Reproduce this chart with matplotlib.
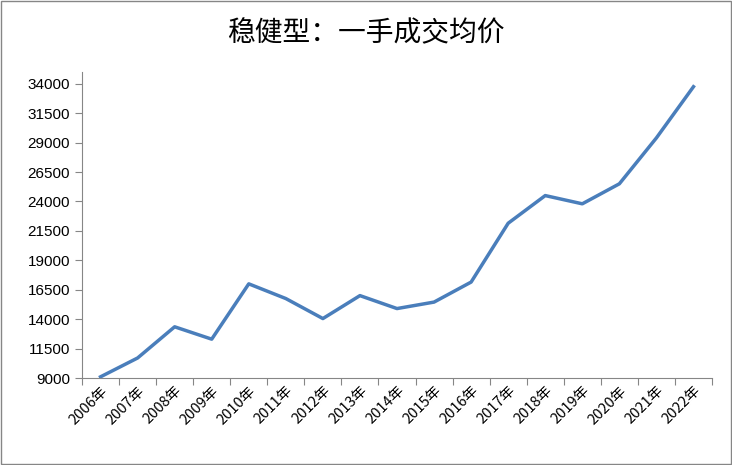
import matplotlib
matplotlib.use("Agg")
import matplotlib.pyplot as plt
from matplotlib.patches import Rectangle

plt.rcParams['font.family'] = ['Noto Sans CJK SC', 'DejaVu Sans']

years = [f"{y}年" for y in range(2006, 2023)]
prices = [9100, 10700, 13350, 12300, 17000, 15750, 14050, 16000, 14900,
          15450, 17150, 22150, 24500, 23800, 25500, 29400, 33750]
yticks = [9000, 11500, 14000, 16500, 19000, 21500, 24000, 26500, 29000, 31500, 34000]

fig = plt.figure(figsize=(7.32, 4.65), dpi=100)
ax = fig.add_axes([82/732, 1-378/465, 630/732, 306/465])
x = list(range(len(years)))
ax.plot(x, prices, color='#4A7EBB', lw=2.5)
ax.set_xlim(-0.5, len(years)-0.5)
ax.set_ylim(9000, 35000)
ax.set_yticks(yticks)
ax.set_yticklabels([str(v) for v in yticks], fontsize=11, family='Liberation Sans')
ax.set_xticks([i-0.5 for i in range(len(years)+1)], minor=False)
ax.set_xticklabels([])
ax.set_xticks(x, minor=True)
ax.set_xticklabels(years, minor=True, rotation=45, ha='right', va='top', fontsize=10.5,
                   rotation_mode='anchor')
ax.tick_params(axis='x', which='minor', length=0, pad=4)
ax.tick_params(axis='x', which='major', length=5, direction='out', color='#868686')
ax.tick_params(axis='y', length=5, direction='out', color='#868686')
for s in ['top', 'right']:
    ax.spines[s].set_visible(False)
for s in ['left', 'bottom']:
    ax.spines[s].set_color('#868686')
fig.text(0.5, 1-33/465, '稳健型：一手成交均价', ha='center', va='center', fontsize=20)
fig.patches.append(Rectangle((0.002, 0.002), 0.996, 0.996, transform=fig.transFigure,
                             fill=False, edgecolor='#868686', lw=1))
fig.savefig('out.png', dpi=100)
